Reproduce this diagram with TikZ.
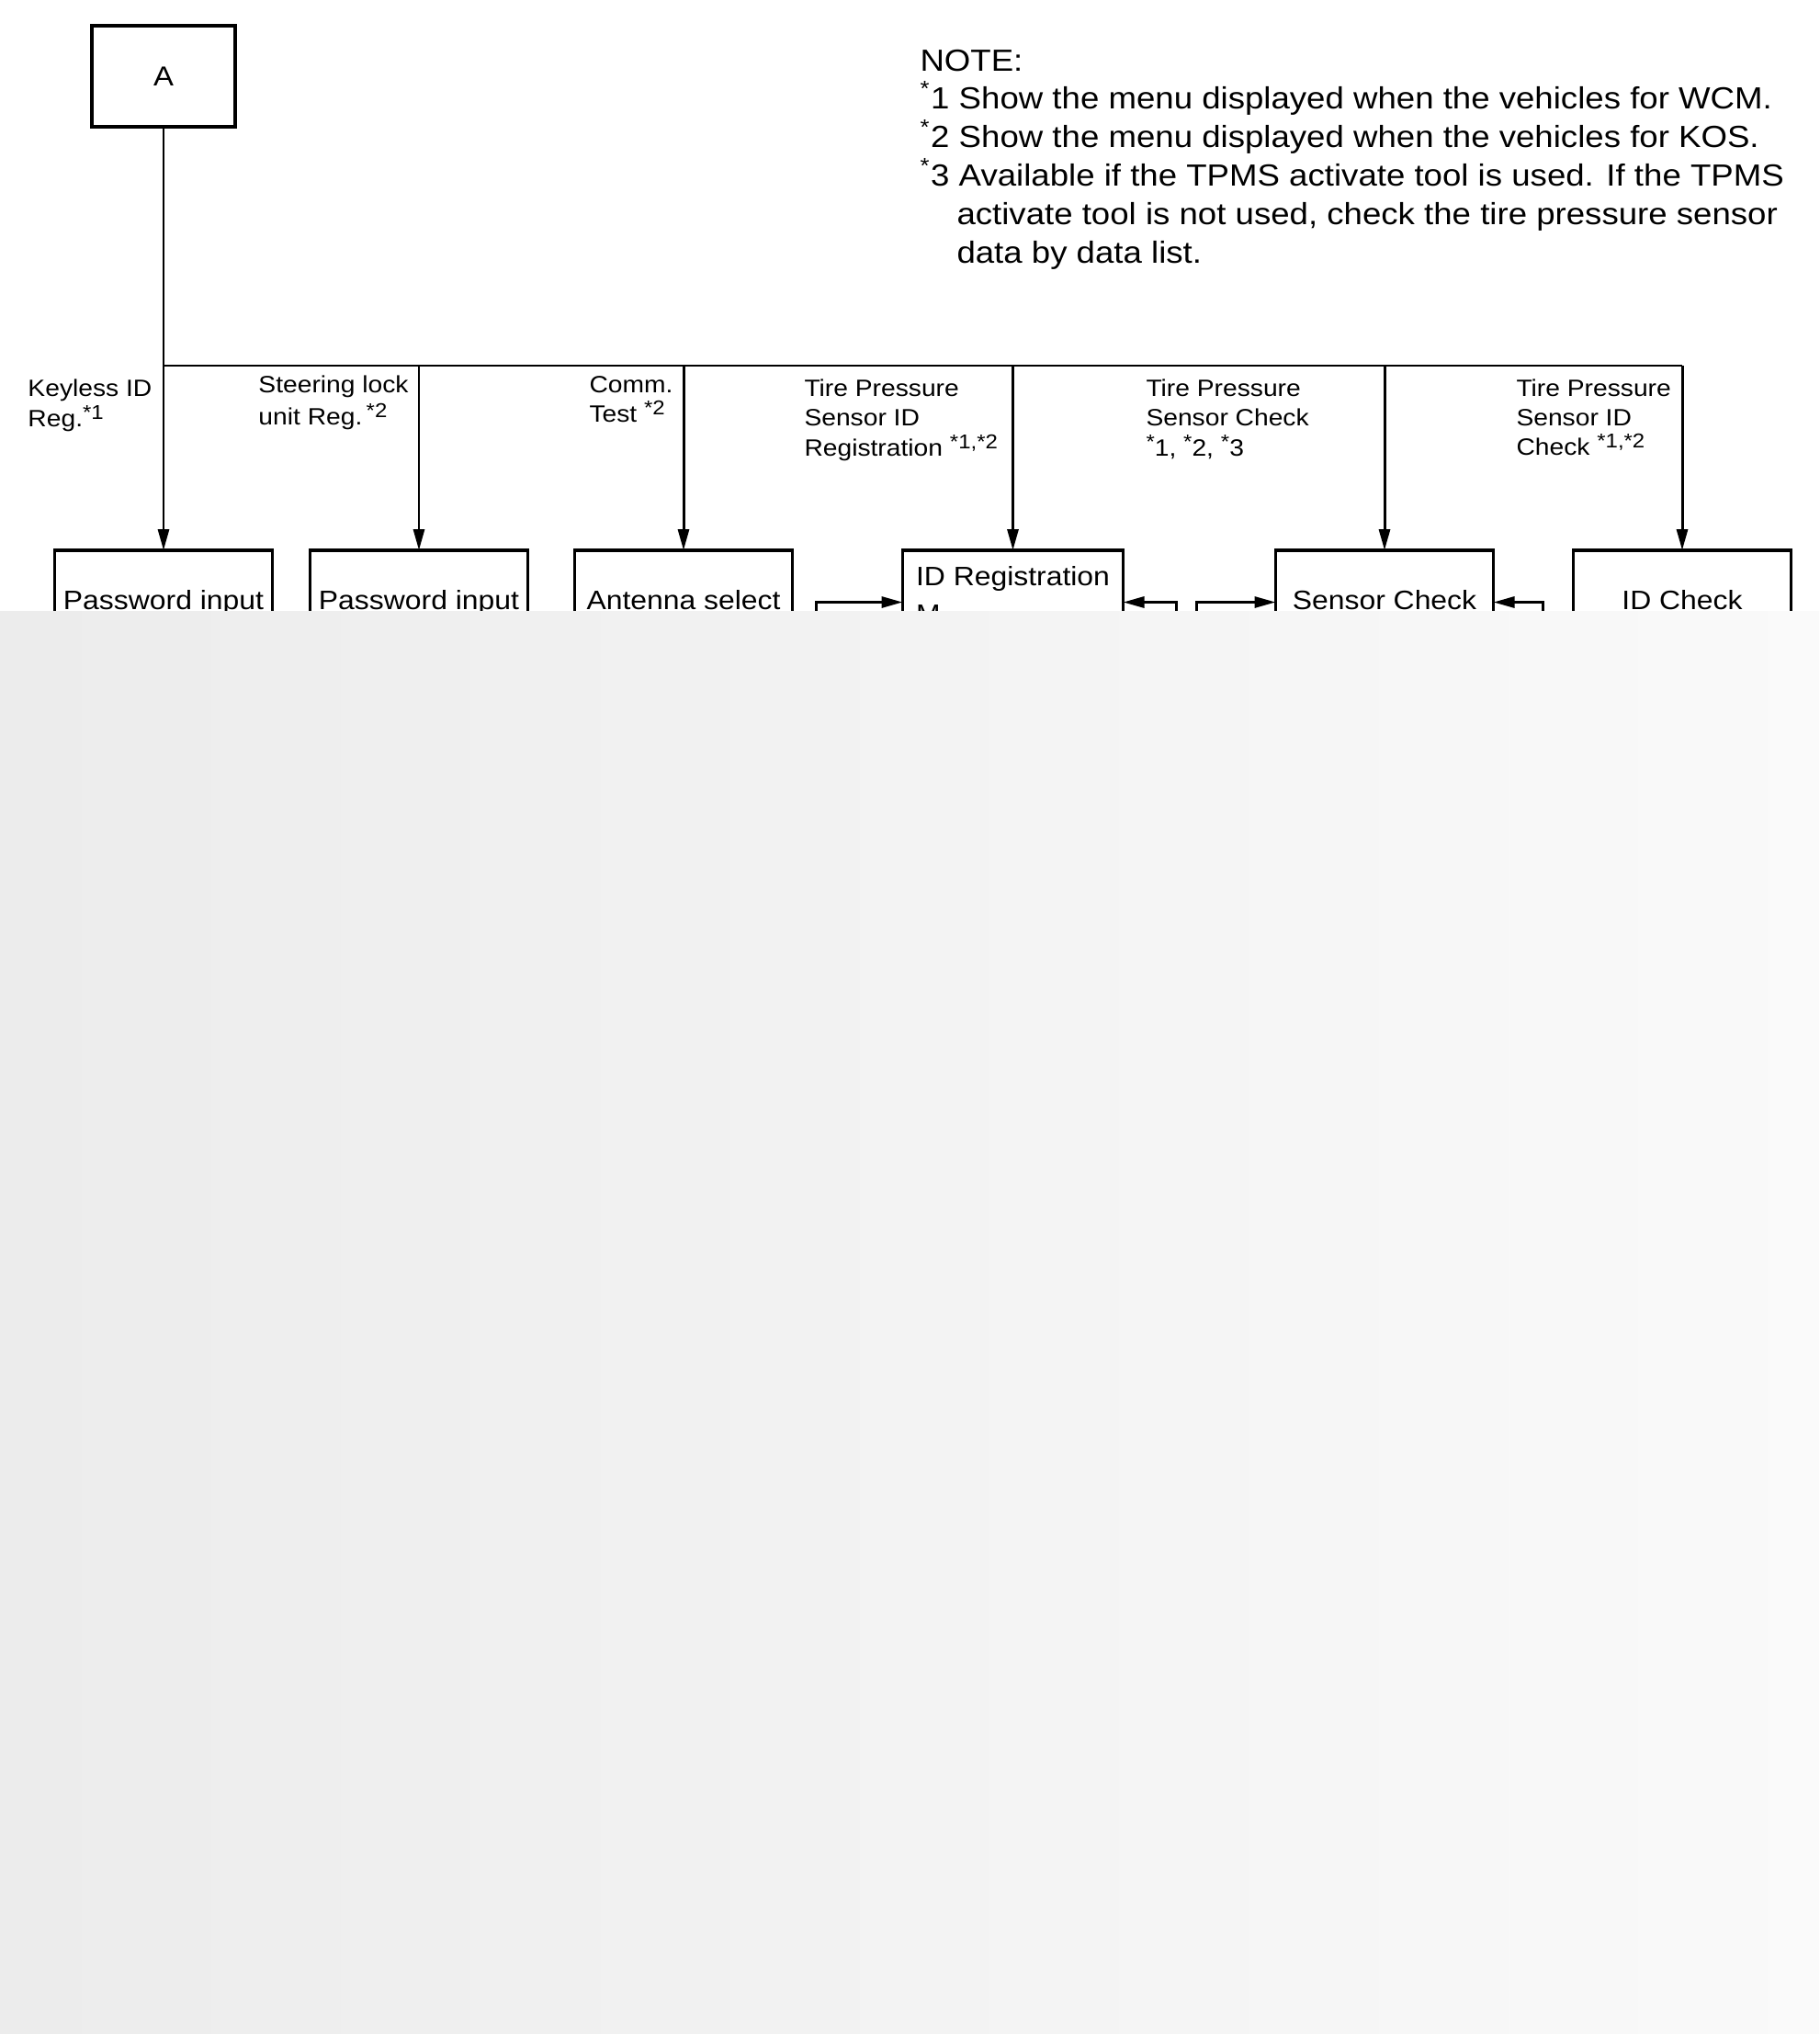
\documentclass[tikz,border=0pt]{standalone}
\usepackage{fontspec}
\setmainfont{Liberation Sans}[FakeStretch=1.1]
\usetikzlibrary{positioning,arrows.meta}
\newcommand{\notefont}{\fontsize{9.47pt}{12pt}\selectfont}
\newcommand{\tagfont}{\fontsize{7.3pt}{9.4pt}\selectfont}
\newcommand{\boxfont}{\fontsize{8.25pt}{11.4pt}\selectfont}
\newcommand{\fnref}[1]{\raisebox{0.3em}{\fontsize{6.2pt}{6.2pt}\selectfont #1}}
\tikzstyle{menubox}=[draw, rectangle, line width=1pt, minimum width=2.37cm, minimum height=1.13cm, inner sep=2pt, outer sep=0pt, text height=0.21cm, text depth=0.06cm, font=\boxfont]
\tikzstyle{tagtext}=[anchor=base west, inner sep=0pt, font=\tagfont]
\tikzstyle{notetext}=[anchor=base west, inner sep=0pt, font=\notefont]

\begin{document}
\begin{tikzpicture}[line width=0.85pt, >={Triangle[length=0.23cm,width=0.12cm]}]
	\useasboundingbox (0,0) rectangle (19.8,-22.14);
	\node[draw, line width=1pt, outer sep=0pt, minimum width=1.56cm, minimum height=1.10cm, font=\fontsize{8.5pt}{10pt}\selectfont] (A) at (1.78,-0.83) {A};
	\node[menubox] (pw1) [below = 4.61cm of A] {Password input};
	\node[menubox] (pw2) [right = 0.41cm of pw1] {Password input};
	\node[menubox] (ant) [right = 0.51cm of pw2] {Antenna select};
	\node[menubox, minimum width=2.40cm, align=left, text height=0.61cm, text depth=0.16cm] (idreg) [right = 1.20cm of ant] {ID Registration\\M};
	\node[menubox] (senchk) [right = 1.66cm of idreg] {Sensor Check};
	\node[menubox] (idchk) [right = 0.87cm of senchk] {ID Check};
	\coordinate (bus) at (0,-3.98);
	\coordinate (r1) at (8.88,-7.4);
	\coordinate (r2) at (12.80,-7.4);
	\coordinate (r3) at (13.02,-7.4);
	\coordinate (r4) at (16.79,-7.4);
	%notes
	\node[notetext] (n0) at (10.00,-0.78) {NOTE:};
	\node[notetext] (n1) at (10.00,-1.18) {\textsuperscript{*}1 Show the menu displayed when the vehicles for WCM.};
	\node[notetext] (n2) at (10.00,-1.60) {\textsuperscript{*}2 Show the menu displayed when the vehicles for KOS.};
	\node[notetext] (n3) at (10.00,-2.02) {\textsuperscript{*}3 Available if the TPMS activate tool is used. If the TPMS};
	\node[notetext] (n4) at (10.40,-2.44) {activate tool is not used, check the tire pressure sensor};
	\node[notetext] (n5) at (10.40,-2.86) {data by data list.};
	%menu labels
	\node[tagtext] (kl1) at (0.29,-4.31) {Keyless ID};
	\node[tagtext] (kl2) at (0.29,-4.64) {Reg.\fnref{*1}};
	\node[tagtext] (sl1) at (2.80,-4.27) {Steering lock};
	\node[tagtext] (sl2) at (2.80,-4.62) {unit Reg.\,\fnref{*2}};
	\node[tagtext] (ct1) at (6.40,-4.27) {Comm.};
	\node[tagtext] (ct2) at (6.40,-4.59) {Test \fnref{*2}};
	\node[tagtext] (ir1) at (8.74,-4.31) {Tire Pressure};
	\node[tagtext] (ir2) at (8.74,-4.63) {Sensor ID};
	\node[tagtext] (ir3) at (8.74,-4.96) {Registration \fnref{*1,*2}};
	\node[tagtext] (sc1) at (12.46,-4.31) {Tire Pressure};
	\node[tagtext] (sc2) at (12.46,-4.63) {Sensor Check};
	\node[tagtext] (sc3) at (12.46,-4.96) {\fnref{*}1, \fnref{*}2, \fnref{*}3};
	\node[tagtext] (ic1) at (16.49,-4.31) {Tire Pressure};
	\node[tagtext] (ic2) at (16.49,-4.63) {Sensor ID};
	\node[tagtext] (ic3) at (16.49,-4.95) {Check \fnref{*1,*2}};

	\draw (A.south) -- (A.south |- bus) -- (idchk.north |- bus);
	\draw[->] (pw1.north |- bus) -- (pw1.north);
	\draw[->] (pw2.north |- bus) -- (pw2.north);
	\draw[->] (ant.north |- bus) -- (ant.north);
	\draw[->] (idreg.north |- bus) -- (idreg.north);
	\draw[->] (senchk.north |- bus) -- (senchk.north);
	\draw[->] (idchk.north |- bus) -- (idchk.north);
	\draw[->] (r1) |- (idreg.west);
	\draw[->] (r2) |- (idreg.east);
	\draw[->] (r3) |- (senchk.west);
	\draw[->] (r4) |- (senchk.east);

	\fill[left color=gray!15, right color=gray!4] (0,-6.65) rectangle (19.8,-22.14);
\end{tikzpicture}
\end{document}
